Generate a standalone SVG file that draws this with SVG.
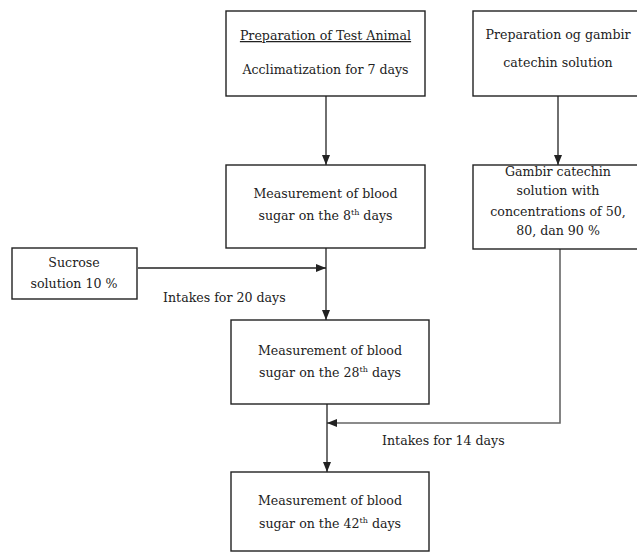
<svg xmlns="http://www.w3.org/2000/svg" width="637" height="553" viewBox="0 0 637 553">
<defs>
<style>
.box{fill:#fff;stroke:#222;stroke-width:1.4}
.t{font-family:"DejaVu Serif","Liberation Serif",serif;font-size:12.6px;fill:#222;text-anchor:middle}
.l{font-family:"DejaVu Serif","Liberation Serif",serif;font-size:12.6px;fill:#222}
.c{fill:none;stroke:#222;stroke-width:1.3}
.g{fill:none;stroke:#666;stroke-width:1.6}
.sup{font-size:8px}
</style>
<marker id="ah" markerUnits="userSpaceOnUse" markerWidth="10" markerHeight="10" viewBox="0 0 10 10" refX="10" refY="5" orient="auto">
<path d="M0,1 L10,5 L0,9 Z" fill="#222"/>
</marker>
</defs>
<rect width="637" height="553" fill="#fff"/>
<g id="connectors">
<line class="c" x1="326" y1="96" x2="326" y2="165" marker-end="url(#ah)"/>
<line class="c" x1="558" y1="96" x2="558" y2="165" marker-end="url(#ah)"/>
<line class="c" x1="138" y1="268" x2="326" y2="268" marker-end="url(#ah)"/>
<line class="c" x1="326" y1="248" x2="326" y2="320" marker-end="url(#ah)"/>
<path class="g" d="M560,249 V423 H327" marker-end="url(#ah)"/>
<line class="c" x1="327" y1="404" x2="327" y2="472" marker-end="url(#ah)"/>
<text class="l" x="163" y="302">Intakes for 20 days</text>
<text class="l" x="382" y="445">Intakes for 14 days</text>
</g>
<g id="n1">
<rect class="box" x="226" y="11" width="199" height="85"/>
<text class="t" x="325.5" y="40" text-decoration="underline">Preparation of Test Animal</text>
<text class="t" x="325.5" y="74">Acclimatization for 7 days</text>
</g>
<g id="n2">
<rect class="box" x="473" y="11" width="172" height="85"/>
<text class="t" x="558" y="39">Preparation og gambir</text>
<text class="t" x="558" y="67">catechin solution</text>
</g>
<g id="n3">
<rect class="box" x="226" y="165" width="199" height="83"/>
<text class="t" x="325.5" y="198">Measurement of blood</text>
<text class="t" x="325.5" y="220">sugar on the 8<tspan class="sup" dy="-5">th</tspan><tspan dy="5"> days</tspan></text>
</g>
<g id="n4">
<rect class="box" x="473" y="165" width="172" height="84"/>
<text class="t" x="558" y="176">Gambir catechin</text>
<text class="t" x="558" y="195">solution with</text>
<text class="t" x="558" y="216">concentrations of 50,</text>
<text class="t" x="558" y="235">80, dan 90 %</text>
</g>
<g id="n5">
<rect class="box" x="12" y="248" width="125" height="51"/>
<text class="t" x="74" y="267">Sucrose</text>
<text class="t" x="74" y="288">solution 10 %</text>
</g>
<g id="n6">
<rect class="box" x="231" y="320" width="198" height="84"/>
<text class="t" x="330" y="355">Measurement of blood</text>
<text class="t" x="330" y="377">sugar on the 28<tspan class="sup" dy="-5">th</tspan><tspan dy="5"> days</tspan></text>
</g>
<g id="n7">
<rect class="box" x="231" y="472" width="198" height="79"/>
<text class="t" x="330" y="505">Measurement of blood</text>
<text class="t" x="330" y="528">sugar on the 42<tspan class="sup" dy="-5">th</tspan><tspan dy="5"> days</tspan></text>
</g>
</svg>
